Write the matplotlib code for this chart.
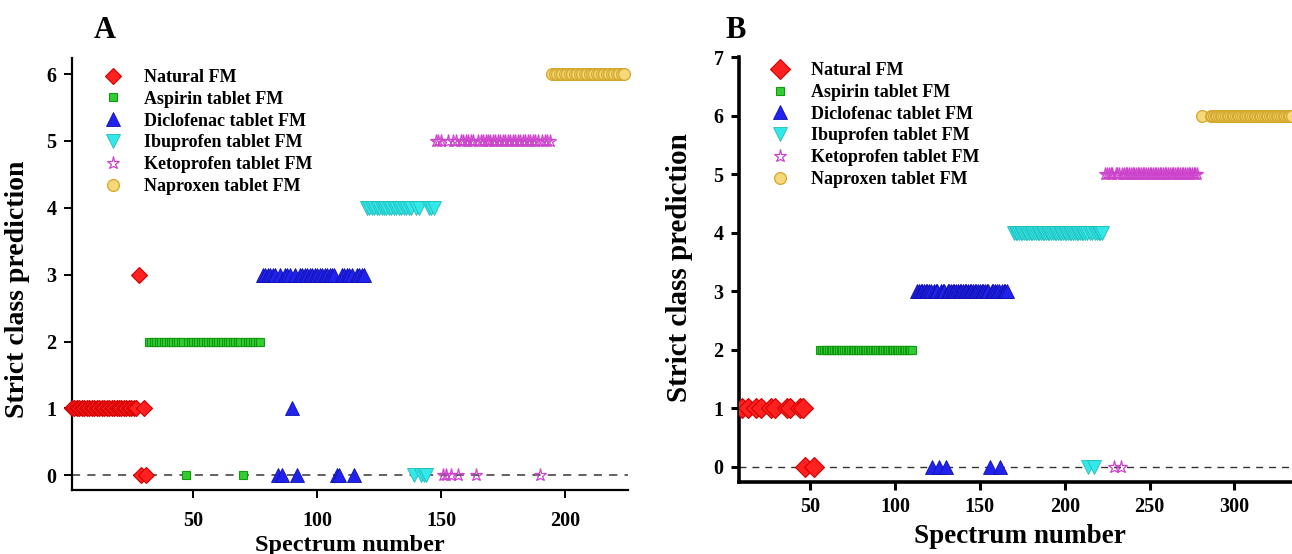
import matplotlib
matplotlib.use("Agg")
import matplotlib.pyplot as plt

plt.rcParams['font.family'] = ['Liberation Serif', 'DejaVu Serif']
plt.rcParams['font.weight'] = 'bold'

# ---------------- data ----------------
class_names = ["Natural FM", "Aspirin tablet FM", "Diclofenac tablet FM",
               "Ibuprofen tablet FM", "Ketoprofen tablet FM", "Naproxen tablet FM"]

# Panel A: spectrum range per class, default predicted class, exceptions
A_ranges = [(1, 31), (32, 77), (78, 119), (120, 147), (148, 194), (195, 224)]
A_default = [1, 2, 3, 4, 5, 6]
A_exceptions = [
    {28: 3, 29: 0, 31: 0},
    {47: 0, 70: 0},
    {84: 0, 86: 0, 90: 1, 92: 0, 108: 0, 109: 0, 115: 0},
    {139: 0, 142: 0, 143: 0, 144: 0},
    {151: 0, 152: 0, 154: 0, 157: 0, 164: 0, 190: 0},
    {},
]

# Panel B
B_natural_x = [10, 13, 18, 21, 27, 29, 36, 38, 44, 46, 47, 52]
B_natural_y = [1, 1, 1, 1, 1, 1, 1, 1, 1, 1, 0, 0]
B_ranges = [None, (56, 110), (113, 166), (170, 222), (224, 278), (286, 334)]
B_default = [1, 2, 3, 4, 5, 6]
B_exceptions = [
    {},
    {},
    {122: 0, 126: 0, 130: 0, 156: 0, 162: 0},
    {214: 0, 217: 0},
    {229: 0, 233: 0},
    {},
]
B_extra = {5: [(281, 6)]}

# ---------------- styles ----------------
styles = [
    dict(marker='D', ms=8.5, mfc='#FF2020', mec='#D00000', mew=0.8),
    dict(marker='s', ms=5.5, mfc='#33CC33', mec='#119911', mew=0.8),
    dict(marker='^', ms=9.5, mfc='#2222EE', mec='#1010AA', mew=0.6),
    dict(marker='v', ms=9.5, mfc='#33E8E8', mec='#22BBBB', mew=0.6),
    dict(marker='*', ms=9.5, mfc='none', mec='#CC44CC', mew=0.9),
    dict(marker='o', ms=8.5, mfc='#F5D87A', mec='#D4A82A', mew=0.9),
]


def series(rng, default, exc):
    xs = list(range(rng[0], rng[1] + 1))
    ys = [exc.get(x, default) for x in xs]
    return xs, ys


fig = plt.figure(figsize=(12.92, 5.54), dpi=100)

tick_fs = 14.5
leg_fs = 13

# ---------------- Panel A ----------------
axA = fig.add_axes([0.0557, 0.1155, 0.4303, 0.7798])
axA.axhline(0, color='#555555', lw=1.3, ls=(0, (4.5, 4)), zorder=1)
for i in range(6):
    xs, ys = series(A_ranges[i], A_default[i], A_exceptions[i])
    axA.plot(xs, ys, ls='none', label=class_names[i], zorder=3, clip_on=False, **styles[i])
axA.set_xlim(1, 225.5)
axA.set_ylim(-0.22, 6.24)
axA.set_xticks([50, 100, 150, 200])
axA.set_yticks([0, 1, 2, 3, 4, 5, 6])
for s in ['top', 'right']:
    axA.spines[s].set_visible(False)
for s in ['left', 'bottom']:
    axA.spines[s].set_linewidth(1.6)
axA.tick_params(axis='both', direction='out', length=6, width=1.4, labelsize=tick_fs)
axA.tick_params(axis='x', pad=9)
axA.tick_params(axis='y', pad=5)
axA.set_xlabel("Spectrum number", fontsize=17.5, fontweight='bold')
axA.set_ylabel("Strict class prediction", fontsize=20, fontweight='bold')
axA.xaxis.set_label_coords(0.499, -0.104)
axA.yaxis.set_label_coords(-0.075, 0.465)
axA.legend(loc='upper left', bbox_to_anchor=(0.035, 1.0), frameon=False,
           fontsize=leg_fs, handlelength=1.2, handletextpad=1.1,
           labelspacing=0.27, borderaxespad=0.2)
fig.text(0.081, 0.945, "A", fontsize=22, fontweight='bold', ha='center', va='center')

# ---------------- Panel B ----------------
axB = fig.add_axes([0.572, 0.13, 0.428, 0.767])
axB.axhline(0, color='#333333', lw=1.0, ls=(0, (5, 4.3)), zorder=1)
for i in range(6):
    st = dict(styles[i])
    if i == 0:
        xs, ys = B_natural_x, B_natural_y
        st['ms'] = 10
    else:
        xs, ys = series(B_ranges[i], B_default[i], B_exceptions[i])
        for (ex, ey) in B_extra.get(i, []):
            xs = [ex] + xs
            ys = [ey] + ys
    axB.plot(xs, ys, ls='none', label=class_names[i], zorder=3, **st)
axB.set_xlim(8, 334)
axB.set_ylim(-0.26, 7.0)
axB.set_xticks([50, 100, 150, 200, 250, 300])
axB.set_yticks([0, 1, 2, 3, 4, 5, 6, 7])
for s in ['top', 'right']:
    axB.spines[s].set_visible(False)
for s in ['left', 'bottom']:
    axB.spines[s].set_linewidth(2.6)
axB.tick_params(axis='both', direction='out', length=6, width=2.2, labelsize=tick_fs)
axB.tick_params(axis='x', pad=5)
axB.tick_params(axis='y', pad=5)
axB.set_xlabel("Spectrum number", fontsize=19.5, fontweight='bold')
axB.set_ylabel("Strict class prediction", fontsize=21, fontweight='bold')
axB.xaxis.set_label_coords(0.508, -0.099)
axB.yaxis.set_label_coords(-0.083, 0.504)
handles, labels = axB.get_legend_handles_labels()
axB.legend(handles, labels, loc='upper left', bbox_to_anchor=(0.035, 1.013), frameon=False,
           fontsize=leg_fs, handlelength=1.2, handletextpad=1.1,
           labelspacing=0.26, borderaxespad=0.2)
fig.text(0.569, 0.945, "B", fontsize=22, fontweight='bold', ha='center', va='center')

fig.savefig("out.png", dpi=100)
